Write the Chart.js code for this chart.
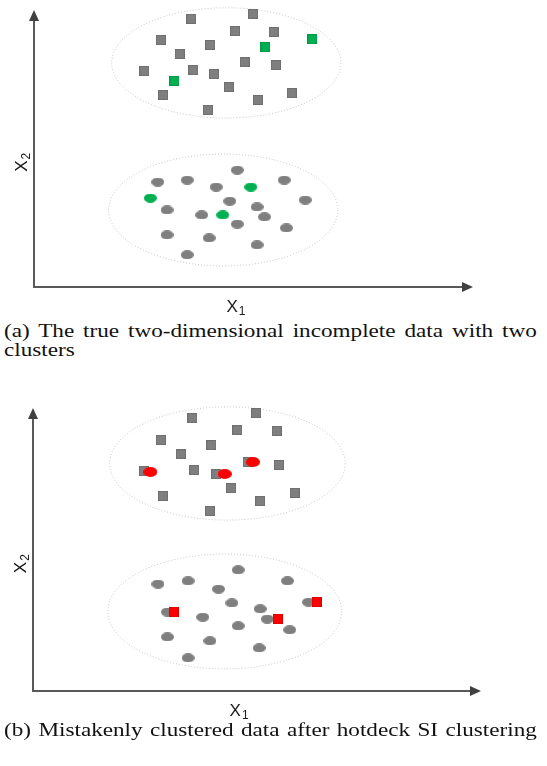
<!DOCTYPE html>
<html>
<head>
<meta charset="utf-8">
<script src="https://cdn.jsdelivr.net/npm/chart.js@4.4.1/dist/chart.umd.min.js"></script>
<style>
  body { margin: 0; background: #fff; width: 547px; height: 766px; position: relative; overflow: hidden; }
  canvas { position: absolute; left: 0; }
  #chartA { top: 0; }
  #chartB { top: 398px; }
  /* captions are set in a narrow box and widened to the page */
  .caption {
    position: absolute; left: 4px; width: 414px;
    font-family: 'Liberation Serif', 'Times New Roman', serif;
    font-size: 18px; line-height: 19px; color: #111;
    text-align: justify;
    transform: scaleX(1.287); transform-origin: 0 0;
  }
  #capA { top: 322px; }
  #capB { top: 721px; text-align-last: justify; }
</style>
</head>
<body>
<canvas id="chartA" width="547" height="320"></canvas>
<div class="caption" id="capA">(a) The true two-dimensional incomplete data with two clusters</div>
<canvas id="chartB" width="547" height="324"></canvas>
<div class="caption" id="capB">(b) Mistakenly clustered data after hotdeck SI clustering</div>

<script>
// (a) true clusters: squares on top, circles below, incomplete records in green
const grayBoxesA = [
  [3.58, 9.68], [4.99, 9.86], [4.58, 9.24], [5.46, 9.21], [2.89, 8.92], [4.01, 8.74],
  [3.32, 8.41], [4.80, 8.12], [5.51, 8.01], [2.51, 7.80], [3.63, 7.83], [4.10, 7.69],
  [4.44, 7.22], [2.94, 6.93], [5.87, 7.00], [5.10, 6.75], [3.96, 6.39]
];
const greenBoxesA = [[5.27, 8.66], [6.34, 8.95], [3.20, 7.44]];
const grayDotsA = [
  [4.63, 4.22], [2.82, 3.79], [3.49, 3.86], [4.15, 3.61], [5.70, 3.86], [4.46, 3.10],
  [6.18, 3.14], [3.03, 2.78], [3.82, 2.60], [5.08, 2.89], [5.25, 2.53], [4.63, 2.27],
  [5.75, 2.13], [3.03, 1.88], [3.99, 1.77], [5.08, 1.52], [3.49, 1.16]
];
const greenDotsA = [[4.94, 3.61], [2.65, 3.21], [4.30, 2.60]];
const ringsA = [
  { cx: 4.38, cy: 8.09, rx: 2.61, ry: 1.99 },
  { cx: 4.31, cy: 2.78, rx: 2.61, ry: 2.02 }
];

// (b) after hotdeck SI: imputed records land in the wrong cluster (red)
const grayBoxesB = [
  [3.56, 9.65], [4.98, 9.82], [4.56, 9.22], [5.44, 9.19], [2.85, 8.87], [3.98, 8.69],
  [3.30, 8.37], [4.79, 8.09], [5.49, 7.99], [2.48, 7.77], [3.60, 7.81], [4.09, 7.67],
  [4.42, 7.17], [2.90, 6.89], [5.84, 7.00], [5.07, 6.71], [3.95, 6.36]
];
const redDotsB = [[4.91, 8.09], [2.62, 7.74], [4.28, 7.67]];
const grayDotsB = [
  [4.58, 4.28], [2.79, 3.78], [3.46, 3.89], [4.14, 3.60], [5.68, 3.89], [4.44, 3.11],
  [5.07, 2.90], [6.15, 3.14], [3.00, 2.79], [3.79, 2.61], [5.23, 2.54], [4.58, 2.30],
  [5.73, 2.16], [3.00, 1.91], [3.95, 1.77], [5.05, 1.52], [3.46, 1.17]
];
const redBoxesB = [[6.33, 3.14], [3.14, 2.79], [5.47, 2.54]];
const ringsB = [
  { cx: 4.34, cy: 8.04, rx: 2.63, ry: 2.00 },
  { cx: 4.28, cy: 2.81, rx: 2.61, ry: 2.03 }
];

const axisNames = [['X', '1'], ['X', '2']];

const GRAY = '#7f7f7f', GREEN = '#00b050', RED = '#ff0000';

// small sprite used as a point style
function marker(shape, fill, w, h) {
  const c = document.createElement('canvas');
  c.width = w; c.height = h;
  const g = c.getContext('2d');
  g.fillStyle = fill;
  if (shape === 'box') {
    g.fillRect(0, 0, w, h);
    g.strokeStyle = 'rgba(0,0,0,0.12)';
    g.strokeRect(0.5, 0.5, w - 1, h - 1);
  } else {
    g.beginPath();
    g.ellipse(w / 2, h / 2, w / 2, h / 2, 0, 0, Math.PI * 2);
    g.fill();
  }
  return c;
}

const toPoints = arr => arr.map(([x, y]) => ({ x, y }));

function drawName(ctx, parts, cx, baseline) {
  ctx.font = '17px "Liberation Sans", Arial, sans-serif';
  const w1 = ctx.measureText(parts[0]).width;
  ctx.font = '12px "Liberation Sans", Arial, sans-serif';
  const w2 = ctx.measureText(parts[1]).width;
  const left = cx - (w1 + w2 + 1) / 2;
  ctx.font = '17px "Liberation Sans", Arial, sans-serif';
  ctx.fillText(parts[0], left, baseline);
  ctx.font = '12px "Liberation Sans", Arial, sans-serif';
  ctx.fillText(parts[1], left + w1 + 1, baseline + 3);
}

// dotted cluster outlines, arrowed axes and axis names
const frame = {
  id: 'frame',
  beforeDatasetsDraw(chart, args, opts) {
    const { ctx, chartArea: a, scales: { x, y } } = chart;
    ctx.save();
    ctx.strokeStyle = '#c2c2c2';
    ctx.lineWidth = 1;
    ctx.setLineDash([1, 2]);
    opts.rings.forEach(r => {
      const cx = x.getPixelForValue(r.cx), cy = y.getPixelForValue(r.cy);
      const rx = x.getPixelForValue(r.cx + r.rx) - cx;
      const ry = cy - y.getPixelForValue(r.cy + r.ry);
      ctx.beginPath();
      ctx.ellipse(cx, cy, rx, ry, 0, 0, Math.PI * 2);
      ctx.stroke();
    });
    ctx.setLineDash([]);

    ctx.strokeStyle = '#595959';
    ctx.fillStyle = '#404040';
    ctx.lineWidth = 2;
    ctx.beginPath();
    ctx.moveTo(a.left, a.top + 8);
    ctx.lineTo(a.left, a.bottom);
    ctx.lineTo(a.right - 8, a.bottom);
    ctx.stroke();
    ctx.beginPath();
    ctx.moveTo(a.left, a.top);
    ctx.lineTo(a.left - 5, a.top + 11);
    ctx.lineTo(a.left + 5, a.top + 11);
    ctx.closePath();
    ctx.fill();
    ctx.beginPath();
    ctx.moveTo(a.right, a.bottom);
    ctx.lineTo(a.right - 11, a.bottom - 5);
    ctx.lineTo(a.right - 11, a.bottom + 5);
    ctx.closePath();
    ctx.fill();

    ctx.fillStyle = '#1a1a1a';
    ctx.textBaseline = 'alphabetic';
    drawName(ctx, axisNames[0], a.left + 0.46 * (a.right - a.left), a.bottom + 25);
    ctx.translate(a.left - 13, a.top + 0.55 * (a.bottom - a.top));
    ctx.rotate(-Math.PI / 2);
    drawName(ctx, axisNames[1], 0, 6);
    ctx.restore();
  }
};

function build(id, sets, rings, padding) {
  return new Chart(document.getElementById(id), {
    type: 'scatter',
    data: {
      datasets: sets.map(s => ({
        data: toPoints(s.data),
        pointStyle: s.style,
        pointRadius: 6,
        borderWidth: 0,
        clip: false
      }))
    },
    options: {
      responsive: false,
      animation: false,
      events: [],
      layout: { padding },
      scales: {
        x: { type: 'linear', min: 0, max: 10, display: false },
        y: { type: 'linear', min: 0, max: 10, display: false }
      },
      plugins: {
        legend: { display: false },
        tooltip: { enabled: false },
        frame: { rings }
      }
    },
    plugins: [frame]
  });
}

// first dataset is painted last, so the highlighted records go first
build('chartA', [
  { data: greenBoxesA, style: marker('box', GREEN, 10, 10) },
  { data: greenDotsA, style: marker('dot', GREEN, 13, 9) },
  { data: grayBoxesA, style: marker('box', GRAY, 10, 10) },
  { data: grayDotsA, style: marker('dot', GRAY, 13, 9) }
], ringsA, { left: 34, top: 10, right: 74, bottom: 33 });

build('chartB', [
  { data: redDotsB, style: marker('dot', RED, 14, 10) },
  { data: redBoxesB, style: marker('box', RED, 10, 10) },
  { data: grayBoxesB, style: marker('box', GRAY, 10, 10) },
  { data: grayDotsB, style: marker('dot', GRAY, 13, 9) }
], ringsB, { left: 33, top: 10, right: 66, bottom: 31 });
</script>
</body>
</html>
